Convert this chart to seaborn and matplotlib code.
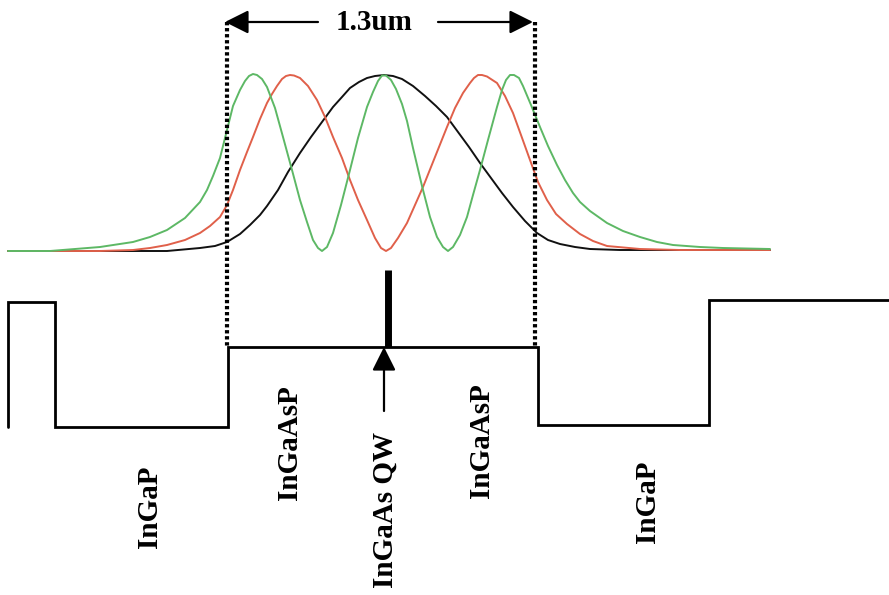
import matplotlib
matplotlib.use("Agg")
import matplotlib.pyplot as plt
import seaborn as sns
import pandas as pd

# ---- mode profiles (diagram coordinates: x across layers, y = drawing height, baseline ~250) ----
black_x = [8, 60, 100, 133, 167, 200, 215, 227, 240, 250, 260, 267, 278, 288, 300, 311, 322, 333, 342,
           350, 359, 367, 375, 384, 393, 402, 413, 425, 436, 447, 458, 469, 480, 491, 502, 513, 525,
           537, 548, 560, 575, 590, 620, 680, 770]
black_y = [251, 251, 251, 251, 251, 248, 246, 242, 234, 225, 215, 206, 190, 172, 153, 137, 122, 107, 97,
           88, 82, 78, 76, 75, 76, 79, 86, 96, 106, 117, 132, 147, 163, 178, 193, 207, 221,
           233, 240, 244, 247, 249, 250, 250, 250]

red_x = [8, 60, 100, 133, 150, 167, 185, 200, 210, 220, 227, 233, 240, 247, 253, 260, 267, 272, 277,
         282, 286, 290, 294, 300, 308, 317, 325, 333, 342, 350, 358, 367, 375, 381, 386, 391, 398, 407, 415,
         423, 435, 447, 455, 463, 470, 474, 478, 482, 487, 497, 505, 513, 521, 530, 538, 547, 556, 567, 580,
         593, 607, 640, 680, 770]
red_y = [251, 251, 251, 250, 248, 245, 240, 233, 226, 217, 205, 190, 170, 152, 137, 119, 103, 94, 86,
         79, 76, 75, 75.5, 78, 86, 100, 117, 137, 158, 180, 200, 220, 238, 248, 251, 248, 238, 223, 205,
         187, 157, 127, 108, 93, 83, 78, 75, 75, 76.5, 83, 96, 113, 135, 160, 182, 200, 214, 224, 234,
         241, 246, 249, 250, 250]

green_x = [8, 50, 100, 133, 150, 167, 185, 200, 207, 213, 220, 227, 233, 240, 245, 249, 253, 257, 262,
           267, 275, 283, 292, 300, 307, 313, 318, 322, 327, 333, 341, 350, 358, 367, 373, 378, 382, 386,
           391, 396, 402, 407, 413, 422, 430, 437, 443, 448, 453, 460, 467, 473, 480, 488, 497, 502, 506,
           510, 514, 519, 523, 531, 540, 548, 557, 565, 573, 580, 590, 607, 623, 640, 657, 673, 700, 723, 770]
green_y = [251, 251, 247, 242, 237, 230, 218, 202, 190, 176, 158, 130, 106, 90, 81, 76, 74, 75, 79,
           87, 108, 137, 170, 200, 222, 240, 248, 251, 247, 233, 205, 170, 138, 107, 92, 81, 75.5, 75.5,
           80, 89, 104, 121, 148, 186, 217, 237, 247, 251, 247, 235, 217, 195, 170, 140, 107, 90, 80,
           75, 75, 78, 86, 105, 127, 146, 165, 180, 193, 202, 211, 223, 231, 237, 242, 245, 247, 248, 249]

# ---- band-edge profile (step line) ----
band_x = [8, 8, 55, 55, 228, 228, 538, 538, 709, 709, 889]
band_y = [427, 302, 302, 427, 427, 347, 347, 425, 425, 300, 300]

# ---- labels ----
layer_labels = ["InGaP", "InGaAsP", "InGaAs QW", "InGaAsP", "InGaP"]
label_x = [150, 289, 385, 482, 648]
label_y = [507, 443, 510, 441, 502]
width_label = "1.3um"

df = pd.concat([
    pd.DataFrame({"x": black_x, "y": black_y, "mode": "TE0"}),
    pd.DataFrame({"x": red_x, "y": red_y, "mode": "TE1"}),
    pd.DataFrame({"x": green_x, "y": green_y, "mode": "TE2"}),
], ignore_index=True)

sns.set_theme(style="white")
fig = plt.figure(figsize=(8.89, 5.95), dpi=100)
ax = fig.add_axes([0, 0, 1, 1])
ax.set_xlim(0, 889)
ax.set_ylim(595, 0)
ax.axis("off")

palette = {"TE0": "#111111", "TE1": "#e0604a", "TE2": "#5db865"}
sns.lineplot(data=df, x="x", y="y", hue="mode", palette=palette, estimator=None,
             sort=False, units="mode", linewidth=1.4, legend=False, ax=ax)

# band profile
ax.plot(band_x, band_y, color="black", lw=2.0, solid_joinstyle="miter")

# dotted guide lines
for xd in (227, 535):
    ax.plot([xd, xd], [22, 347], color="black", lw=3.0, linestyle=(0, (0.8, 0.65)),
            dash_capstyle="butt")

# quantum well bar
ax.plot([388, 388], [270, 347], color="black", lw=5.0, solid_capstyle="butt")

# arrows
arrow_kw = dict(arrowstyle="-|>,head_length=0.72,head_width=0.36", color="black", lw=1.6,
                shrinkA=0, shrinkB=0, mutation_scale=20)
ax.annotate("", xy=(225, 22), xytext=(318, 22), arrowprops=arrow_kw)
ax.annotate("", xy=(533, 22), xytext=(438, 22), arrowprops=arrow_kw)
ax.annotate("", xy=(384, 347), xytext=(384, 411), arrowprops=arrow_kw)

serif = ["Liberation Serif", "DejaVu Serif"]
ax.text(374, 30, width_label, ha="center", va="baseline", fontsize=21,
        fontweight="bold", family=serif, color="black")
for lab, lx, ly in zip(layer_labels, label_x, label_y):
    ax.text(lx, ly, lab, rotation=90, ha="center", va="center", fontsize=21,
            fontweight="bold", family=serif, color="black")

fig.savefig("out.png", dpi=100, facecolor="white")
